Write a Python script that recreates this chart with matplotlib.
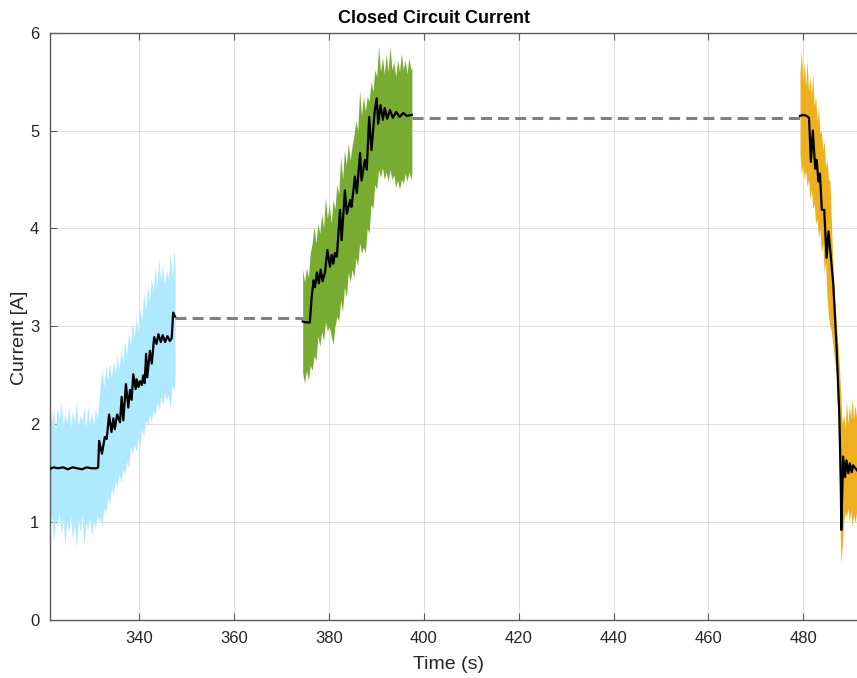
import matplotlib
matplotlib.use("Agg")
import matplotlib.pyplot as plt
import numpy as np

plt.rcParams['font.family'] = ['Liberation Sans', 'DejaVu Sans']

# --- mean current (black trace), three logging windows ---
t1 = [320.0, 321.0, 322.0, 323.0, 324.0, 325.0, 326.0, 327.0, 328.0, 329.0, 330.0, 331.0,
      331.4, 331.6, 332.2, 332.8, 333.2, 333.7, 334.2, 334.6, 334.9, 335.4, 336.0, 336.35,
      336.7, 337.25, 337.75, 338.1, 338.45, 338.8, 339.3, 339.5, 339.9, 340.2, 340.6, 340.9,
      341.2, 341.5, 341.75, 342.3, 342.7, 343.2, 343.7, 344.1, 344.6, 345.0, 345.5, 346.0,
      346.5, 346.9, 347.2, 347.6]
i1 = [1.56, 1.54, 1.56, 1.55, 1.56, 1.54, 1.56, 1.55, 1.54, 1.56, 1.55, 1.55,
      1.56, 1.83, 1.70, 1.87, 1.85, 2.10, 1.92, 2.06, 1.95, 2.10, 2.02, 2.28,
      2.04, 2.41, 2.17, 2.35, 2.25, 2.51, 2.36, 2.46, 2.38, 2.44, 2.40, 2.50,
      2.42, 2.72, 2.48, 2.75, 2.62, 2.89, 2.82, 2.92, 2.84, 2.91, 2.84, 2.90,
      2.85, 2.88, 3.14, 3.10]

t2 = [374.5, 375.2, 376.0, 376.4, 376.8, 377.1, 377.5, 377.9, 378.3, 378.7,
      379.2, 379.7, 380.25, 380.6, 380.95, 381.3, 381.7, 382.36, 382.7, 383.4,
      383.8, 384.5, 384.8, 385.5, 385.9, 386.6, 386.9, 387.6, 388.0, 388.5,
      389.0, 389.7, 390.1, 390.4, 390.9, 391.4, 391.8, 392.3, 392.9, 393.5,
      394.2, 394.9, 395.7, 396.4, 397.5]
i2 = [3.05, 3.04, 3.04, 3.30, 3.47, 3.40, 3.55, 3.44, 3.58, 3.46,
      3.55, 3.78, 3.61, 3.73, 3.64, 3.75, 3.71, 4.19, 3.88, 4.39,
      4.15, 4.29, 4.22, 4.53, 4.36, 4.77, 4.49, 4.70, 4.60, 5.14,
      4.80, 5.21, 5.33, 5.07, 5.26, 5.11, 5.23, 5.12, 5.21, 5.13,
      5.19, 5.14, 5.18, 5.15, 5.16]

t3 = [479.3, 480.0, 480.7, 481.2, 481.6, 482.0, 482.5, 482.8, 483.2, 483.5,
      483.9, 484.4, 484.9, 485.3, 485.8, 486.3, 487.0, 487.6, 487.9, 488.0,
      488.4, 488.8, 489.1, 489.5, 489.8, 490.2, 490.5, 491.3]
i3 = [5.15, 5.16, 5.15, 5.13, 4.68, 5.00, 4.61, 4.70, 4.48, 4.56,
      4.19, 4.19, 3.70, 3.97, 3.71, 3.44, 2.80, 2.08, 1.40, 0.92,
      1.67, 1.46, 1.63, 1.50, 1.60, 1.51, 1.58, 1.53]

# --- raw signal envelopes (min / max of the sampled current) ---
e1_t = [320.0, 320.4, 320.8, 321.2, 321.6, 322.0, 322.4, 322.8, 323.2, 323.6,
        324.0, 324.4, 324.8, 325.2, 325.6, 326.0, 326.4, 326.8, 327.2, 327.6,
        328.0, 328.4, 328.8, 329.2, 329.6, 330.0, 330.4, 330.8, 331.2, 331.5,
        331.8, 332.2, 332.6, 333.0, 333.4, 333.8, 334.2, 334.6, 335.0, 335.4,
        335.8, 336.2, 336.6, 337.0, 337.4, 337.8, 338.2, 338.6, 339.0, 339.4,
        339.8, 340.2, 340.6, 341.0, 341.4, 341.8, 342.2, 342.6, 343.0, 343.4,
        343.8, 344.2, 344.6, 345.0, 345.4, 345.8, 346.2, 346.6, 347.0, 347.4,
        347.6]
e1_hi = [2.05, 2.20, 1.98, 2.25, 2.02, 2.15, 1.95, 2.18, 2.05, 2.22,
         1.98, 2.12, 2.00, 2.20, 1.96, 2.14, 2.02, 2.22, 1.97, 2.10,
         2.03, 2.18, 1.95, 2.20, 2.00, 2.12, 1.98, 2.16, 2.05, 2.20,
         2.40, 2.55, 2.38, 2.60, 2.45, 2.62, 2.48, 2.65, 2.52, 2.70,
         2.55, 2.78, 2.62, 2.85, 2.70, 2.95, 2.80, 3.05, 2.88, 3.10,
         2.95, 3.20, 3.05, 3.36, 3.15, 3.42, 3.25, 3.50, 3.35, 3.62,
         3.40, 3.70, 3.45, 3.62, 3.42, 3.58, 3.48, 3.75, 3.50, 3.78,
         3.60]
e1_lo = [1.00, 0.85, 1.05, 0.92, 1.08, 0.80, 1.02, 0.95, 1.10, 0.88,
         1.04, 0.75, 1.00, 0.90, 1.06, 0.82, 0.98, 0.74, 1.03, 0.90,
         1.08, 0.77, 1.00, 0.92, 1.05, 0.85, 1.02, 0.93, 1.07, 1.00,
         1.05, 0.95, 1.15, 1.08, 1.25, 1.18, 1.35, 1.28, 1.42, 1.35,
         1.50, 1.40, 1.55, 1.48, 1.62, 1.55, 1.78, 1.70, 1.80, 1.72,
         1.85, 1.78, 1.95, 1.88, 2.05, 1.98, 2.10, 2.02, 2.15, 2.10,
         2.22, 2.15, 2.28, 2.20, 2.32, 2.25, 2.30, 2.15, 2.40, 2.35,
         2.45]

e2_t = [374.5, 374.9, 375.3, 375.7, 376.1, 376.5, 376.9, 377.3, 377.7, 378.1,
        378.5, 378.9, 379.3, 379.7, 380.1, 380.5, 380.9, 381.3, 381.7, 382.1,
        382.5, 382.9, 383.3, 383.7, 384.1, 384.5, 384.9, 385.3, 385.7, 386.1,
        386.5, 386.9, 387.3, 387.7, 388.1, 388.5, 388.9, 389.3, 389.7, 390.1,
        390.5, 390.9, 391.3, 391.7, 392.1, 392.5, 392.9, 393.3, 393.7, 394.1,
        394.5, 394.9, 395.3, 395.7, 396.1, 396.5, 396.9, 397.3, 397.5]
e2_hi = [3.58, 3.45, 3.60, 3.50, 3.75, 3.85, 4.02, 3.85, 4.05, 3.95,
         4.15, 4.00, 4.32, 4.10, 4.25, 4.05, 4.29, 4.20, 4.45, 4.35,
         4.73, 4.50, 4.80, 4.65, 4.87, 4.70, 4.84, 4.95, 5.10, 5.00,
         5.41, 5.15, 5.35, 5.20, 5.35, 5.30, 5.50, 5.40, 5.62, 5.55,
         5.86, 5.60, 5.75, 5.58, 5.78, 5.60, 5.86, 5.62, 5.70, 5.55,
         5.72, 5.60, 5.79, 5.62, 5.72, 5.58, 5.75, 5.62, 5.65]
e2_lo = [2.52, 2.42, 2.55, 2.45, 2.60, 2.55, 2.70, 2.65, 2.90, 2.80,
         2.95, 2.85, 3.05, 2.95, 3.00, 2.90, 2.82, 3.00, 3.10, 3.05,
         3.27, 3.15, 3.40, 3.30, 3.55, 3.45, 3.58, 3.50, 3.70, 3.62,
         3.85, 3.75, 3.81, 3.75, 4.00, 3.95, 4.25, 4.20, 4.45, 4.40,
         4.60, 4.52, 4.62, 4.50, 4.58, 4.48, 4.60, 4.50, 4.55, 4.42,
         4.49, 4.40, 4.50, 4.46, 4.56, 4.48, 4.58, 4.50, 4.56]

e3_t = [479.3, 479.6, 479.9, 480.2, 480.5, 480.8, 481.1, 481.4, 481.7, 482.0,
        482.3, 482.6, 482.9, 483.2, 483.5, 483.8, 484.1, 484.4, 484.7, 485.0,
        485.3, 485.6, 485.9, 486.3, 486.6, 487.0, 487.3, 487.6, 487.9, 488.2,
        488.5, 488.8, 489.1, 489.4, 489.7, 490.0, 490.3, 490.6, 490.9, 491.2,
        491.5]
e3_hi = [5.60, 5.82, 5.50, 5.70, 5.45, 5.72, 5.40, 5.55, 5.35, 5.58,
         5.25, 5.35, 5.10, 5.24, 4.97, 5.00, 4.80, 4.90, 4.63, 4.70,
         4.50, 4.49, 4.10, 3.54, 3.30, 3.00, 2.80, 2.59, 2.30, 2.00,
         2.10, 1.95, 2.24, 2.00, 2.20, 2.05, 2.27, 2.05, 2.20, 2.08,
         2.17]
e3_lo = [4.75, 4.55, 4.65, 4.50, 4.60, 4.42, 4.50, 4.30, 4.40, 4.20,
         4.25, 4.05, 4.10, 3.90, 4.00, 3.75, 3.85, 3.55, 3.65, 3.30,
         3.10, 3.00, 2.95, 2.78, 2.65, 2.51, 2.00, 1.30, 0.58, 0.75,
         0.99, 1.10, 1.05, 1.15, 1.00, 1.12, 0.95, 1.08, 0.99, 1.10,
         1.02]

# gaps between windows, bridged at the last known current
gap1_t = [347.6, 374.5]
gap1_i = [3.09, 3.09]
gap2_t = [397.5, 479.3]
gap2_i = [5.13, 5.13]

c_cyan = '#aee9ff'
c_green = '#77ac30'
c_orange = '#edb120'

fig = plt.figure(figsize=(8.57, 6.78), dpi=100)
ax = fig.add_axes([0.0589, 0.0855, 0.951, 0.8663])

ax.fill_between(e1_t, e1_lo, e1_hi, color=c_cyan, lw=0, zorder=2)
ax.fill_between(e2_t, e2_lo, e2_hi, color=c_green, lw=0, zorder=2)
ax.fill_between(e3_t, e3_lo, e3_hi, color=c_orange, lw=0, zorder=2)

for t, i in [(t1, i1), (t2, i2), (t3, i3)]:
    ax.plot(t, i, color='k', lw=1.6, zorder=4)

for t, i in [(gap1_t, gap1_i), (gap2_t, gap2_i)]:
    ax.plot(t, i, color='#808080', lw=2.2, linestyle=(0, (3.6, 2.0)), zorder=3)

ax.set_xlim(321.35, 493.1)
ax.set_ylim(0, 6)
ax.set_xticks(np.arange(340, 481, 20))
ax.set_yticks(np.arange(0, 7, 1))
ax.grid(True, color='#262626', alpha=0.15, lw=0.7)
ax.set_axisbelow(True)

for s in ax.spines.values():
    s.set_color('#5a5a5a')
    s.set_linewidth(1.0)
ax.tick_params(direction='in', length=5, width=0.8, color='#5a5a5a',
               labelsize=12, labelcolor='#262626', top=True, right=True, pad=8)

ax.set_title('Closed Circuit Current', fontsize=13, fontweight='bold',
             color='k', x=0.4706, pad=7)
ax.set_xlabel('Time (s)', fontsize=14, color='#262626')
ax.set_ylabel('Current [A]', fontsize=14, color='#262626')
ax.xaxis.set_label_coords(0.488, -0.062)
ax.yaxis.set_label_coords(-0.028, 0.48)

fig.savefig('out.png', dpi=100)
